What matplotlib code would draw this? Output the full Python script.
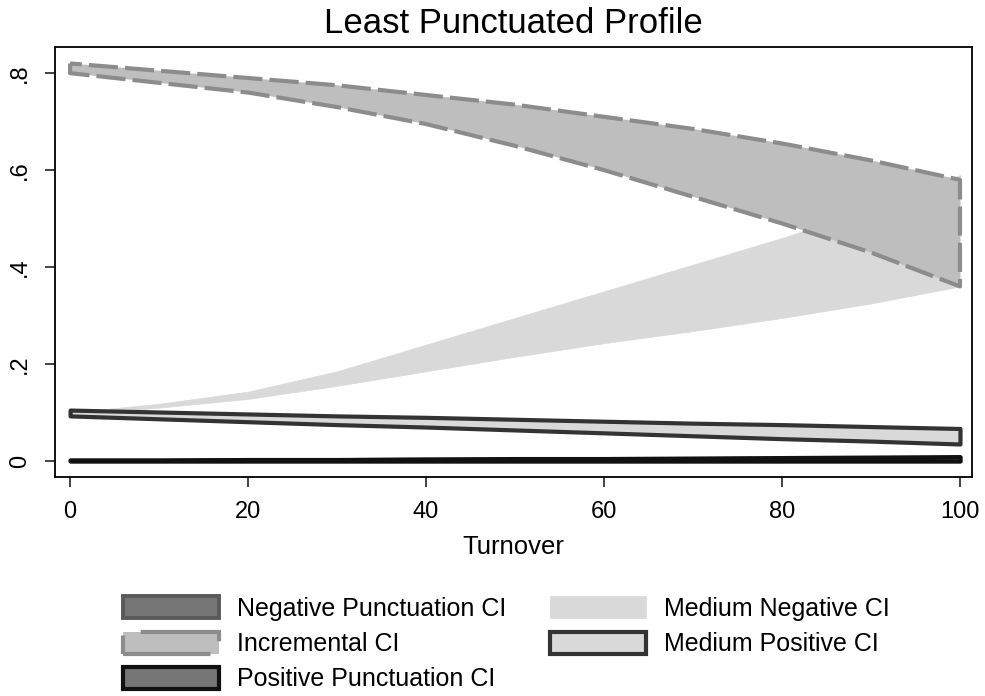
import matplotlib
matplotlib.use("Agg")
import matplotlib.pyplot as plt

plt.rcParams['font.family'] = ['Liberation Sans', 'DejaVu Sans']

turnover = [0, 10, 20, 30, 40, 50, 60, 70, 80, 90, 100]

neg_punct_lo = [0.0, 0.0, 0.0, 0.0, 0.0, 0.0, 0.0, 0.0, 0.0, 0.0, 0.0]
neg_punct_hi = [0.002, 0.002, 0.003, 0.003, 0.004, 0.004, 0.005, 0.005, 0.006, 0.006, 0.007]

incr_lo = [0.80, 0.78, 0.76, 0.73, 0.695, 0.65, 0.60, 0.545, 0.49, 0.43, 0.36]
incr_hi = [0.82, 0.805, 0.79, 0.775, 0.755, 0.735, 0.71, 0.685, 0.655, 0.62, 0.58]

pos_punct_lo = [0.0, 0.0, 0.0, 0.0, 0.0, 0.0, 0.0, 0.0, 0.0, 0.0, 0.0]
pos_punct_hi = [0.002, 0.002, 0.003, 0.003, 0.004, 0.005, 0.005, 0.006, 0.007, 0.008, 0.009]

medneg_lo = [0.095, 0.11, 0.128, 0.155, 0.185, 0.215, 0.243, 0.268, 0.295, 0.325, 0.36]
medneg_hi = [0.10, 0.118, 0.143, 0.185, 0.24, 0.295, 0.35, 0.405, 0.46, 0.52, 0.59]

medpos_lo = [0.093, 0.087, 0.081, 0.075, 0.070, 0.064, 0.058, 0.052, 0.046, 0.041, 0.035]
medpos_hi = [0.105, 0.101, 0.097, 0.093, 0.090, 0.086, 0.082, 0.078, 0.075, 0.071, 0.067]

fig = plt.figure(figsize=(9.85, 6.96), dpi=100)
ax = fig.add_axes([0.0558, 0.3147, 0.931, 0.6178])

h1 = ax.fill_between(turnover, neg_punct_lo, neg_punct_hi, facecolor='#767676',
                     edgecolor='#5a5a5a', linewidth=2.8, label='Negative Punctuation CI')
h2 = ax.fill_between(turnover, incr_lo, incr_hi, facecolor='#bebebe',
                     edgecolor='#8c8c8c', linewidth=3, linestyle=(0, (7, 1.7)),
                     label='Incremental CI')
h3 = ax.fill_between(turnover, pos_punct_lo, pos_punct_hi, facecolor='#767676',
                     edgecolor='#111111', linewidth=3, label='Positive Punctuation CI')
h4 = ax.fill_between(turnover, medneg_lo, medneg_hi, facecolor='#d9d9d9',
                     edgecolor='#d9d9d9', linewidth=0.5, label='Medium Negative CI')
h5 = ax.fill_between(turnover, medpos_lo, medpos_hi, facecolor='#d9d9d9',
                     edgecolor='#333333', linewidth=3, label='Medium Positive CI')
h4.set_zorder(1)
h2.set_zorder(2)
h5.set_zorder(3)
h1.set_zorder(3)
h3.set_zorder(4)

ax.set_xlim(-1.7, 101.35)
ax.set_ylim(-0.033, 0.854)
ax.set_xticks([0, 20, 40, 60, 80, 100])
ax.set_yticks([0, 0.2, 0.4, 0.6, 0.8])
ax.set_yticklabels(['0', '.2', '.4', '.6', '.8'], rotation=90, va='center')
ax.tick_params(labelsize=17, length=7, width=1.2, color='#222222')
ax.tick_params(axis='x', pad=10)
ax.tick_params(axis='y', pad=10)
for s in ax.spines.values():
    s.set_linewidth(1.3)
ax.set_xlabel('Turnover', fontsize=18.5, labelpad=9)
ax.set_title('Least Punctuated Profile', fontsize=25, pad=10)

fig.legend(handles=[h1, h2, h3, h4, h5], loc='upper left',
           bbox_to_anchor=(0.112, 0.161), ncol=2, frameon=False, fontsize=18,
           handlelength=3.85, handleheight=0.98, handletextpad=0.72,
           columnspacing=1.75, labelspacing=0.42, borderpad=0)

fig.savefig('out.png', dpi=100)
